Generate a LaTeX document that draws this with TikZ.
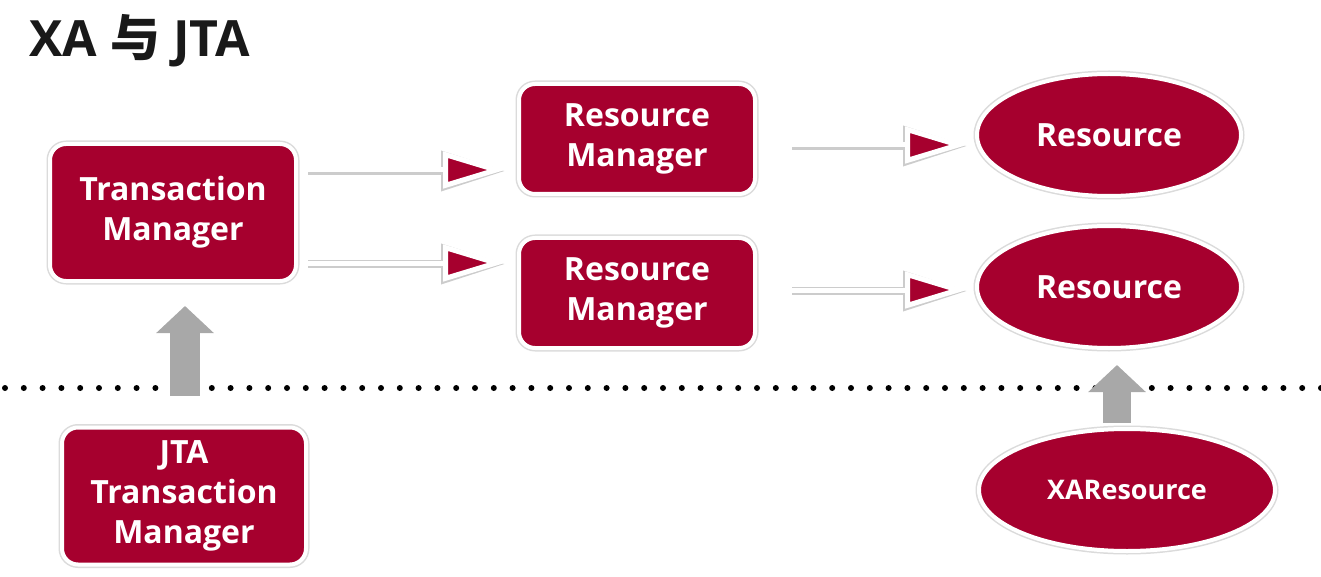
\documentclass[tikz,border=0pt]{standalone}
\usepackage{fontspec}
\setmainfont{Open Sans}
\newfontfamily\cjk{Noto Sans CJK SC}
\usetikzlibrary{shapes.geometric,arrows.meta,shadows,calc}
\definecolor{crim}{RGB}{166,0,46}
\definecolor{garrow}{RGB}{168,168,168}
\begin{document}
\begin{tikzpicture}[x=1pt,y=-1pt,
  halo/.style={preaction={draw=black!14, line width=7pt}},
  box/.style={rectangle, rounded corners=16pt, fill=crim, draw=white, line width=4pt,
    text=white, font=\bfseries\fontsize{32}{40}\selectfont, align=center,
    drop shadow={shadow xshift=1.5pt, shadow yshift=-2.5pt, opacity=0.22}, halo},
  oval/.style={ellipse, fill=crim, draw=white, line width=4pt, inner sep=0pt,
    text=white, font=\bfseries\fontsize{32}{40}\selectfont, align=center,
    drop shadow={shadow xshift=1.5pt, shadow yshift=-2.5pt, opacity=0.22}, halo},
  flow/.style={white, line width=5pt,
    -{Triangle[length=62pt,width=36pt,fill=crim,line width=5pt]},
    preaction={draw=black!20, line width=7.5pt, transform canvas={yshift=-1pt},
      -{Triangle[length=64pt,width=39pt,fill=black!20,line width=7pt]}}},
  uparrow/.style={garrow, -{Triangle[length=27pt,width=56pt]}},
]
\useasboundingbox (0,0) rectangle (1321,577);

% title
\node[anchor=base west, inner sep=0pt, font=\bfseries\fontsize{50}{50}\selectfont, text=black!90]
  (title) at (29,57) {XA {\cjk\bfseries 与} JTA};

% dotted divider
\coordinate (dl) at (5,388);
\coordinate (dr) at (1321,388);
\draw[line width=6pt, line cap=round, dash pattern=on 0pt off 18.8pt] (dl) -- (dr);

% nodes
\node[box, minimum width=246pt, minimum height=137pt] (TM) at (173,212.5) {Transaction\\Manager};
\node[box, minimum width=236pt, minimum height=110pt] (RM1) at (637,139) {Resource\\Manager};
\node[box, minimum width=236pt, minimum height=110pt] (RM2) at (637,293) {Resource\\Manager};
\node[oval, minimum width=264pt, minimum height=122pt] (R1) at (1109,135) {Resource};
\node[oval, minimum width=264pt, minimum height=122pt] (R2) at (1109,287) {Resource};
\node[oval, minimum width=296pt, minimum height=122pt, font=\bfseries\fontsize{27}{34}\selectfont] (XA) at (1127,490) {XAResource};
\node[box, minimum width=244pt, minimum height=137pt] (JTA) at (184,496) {JTA\\Transaction\\Manager};

% flow arrows
\draw[flow, shorten >=12pt] ($(TM.east)+(10,-42.5)$) coordinate (f1) -- (f1 -| RM1.west);
\draw[flow, shorten >=12pt] ($(TM.east)+(10,50.5)$) coordinate (f2) -- (f2 -| RM2.west);
\draw[flow, shorten >=8pt] ($(RM1.east)+(35,6)$) coordinate (f3) -- (f3 -| R1.west);
\draw[flow, shorten >=8pt] ($(RM2.east)+(35,-3)$) coordinate (f4) -- (f4 -| R2.west);

% gray up arrows
\draw[uparrow, line width=30pt, shorten <=30pt, shorten >=23pt]
  ([xshift=1pt]JTA.north) -- ([xshift=1pt]JTA.north |- TM.south);
\draw[uparrow, line width=28pt, shorten <=4pt, shorten >=15pt]
  ([xshift=-10pt]XA.north) -- ([xshift=-10pt]XA.north |- R2.south);
\end{tikzpicture}
\end{document}
